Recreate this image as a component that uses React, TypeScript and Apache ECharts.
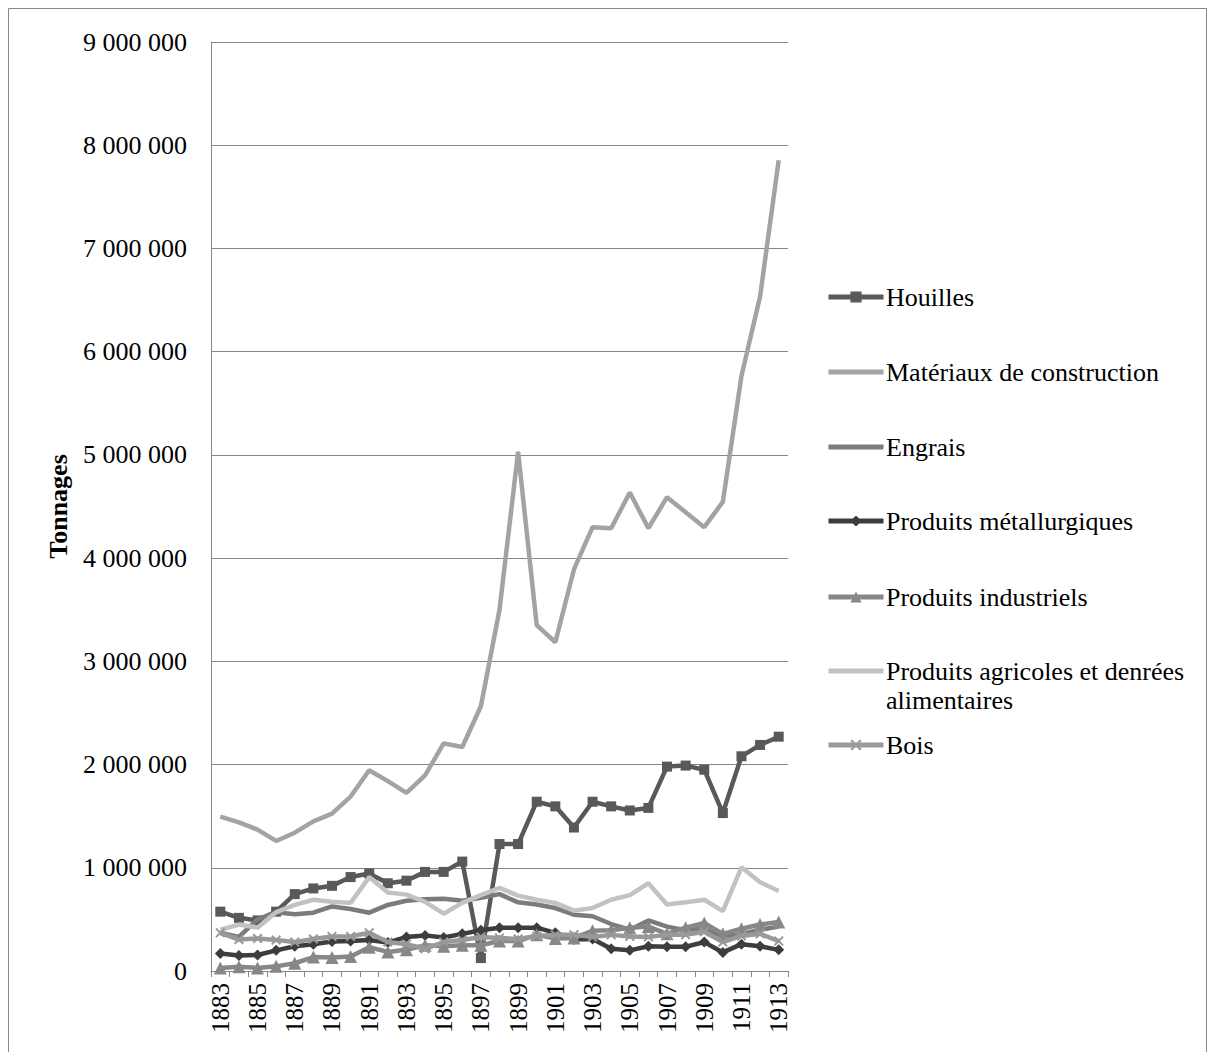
import React, { useEffect, useRef } from "react";
import * as echarts from "echarts";

const years = [
  "1883","1884","1885","1886","1887","1888","1889","1890","1891","1892","1893",
  "1894","1895","1896","1897","1898","1899","1900","1901","1902","1903","1904",
  "1905","1906","1907","1908","1909","1910","1911","1912","1913",
];

const houilles = [575000, 515000, 490000, 575000, 745000, 800000, 825000, 910000, 945000, 850000, 875000, 960000, 960000, 1060000, 125000, 1230000, 1230000, 1640000, 1595000, 1390000, 1640000, 1595000, 1555000, 1580000, 1980000, 1990000, 1950000, 1530000, 2080000, 2190000, 2270000];
const materiaux = [1495000, 1440000, 1370000, 1260000, 1340000, 1450000, 1525000, 1690000, 1945000, 1840000, 1725000, 1895000, 2205000, 2170000, 2565000, 3500000, 5030000, 3350000, 3185000, 3890000, 4300000, 4290000, 4635000, 4290000, 4590000, 4445000, 4300000, 4545000, 5765000, 6535000, 7855000];
const engrais = [370000, 330000, 500000, 570000, 550000, 565000, 625000, 600000, 565000, 640000, 680000, 695000, 700000, 680000, 710000, 745000, 665000, 645000, 610000, 545000, 530000, 455000, 400000, 490000, 430000, 395000, 420000, 330000, 360000, 400000, 430000];
const metallurgiques = [170000, 150000, 155000, 200000, 240000, 260000, 285000, 290000, 300000, 275000, 330000, 345000, 325000, 360000, 395000, 420000, 420000, 420000, 370000, 305000, 310000, 215000, 200000, 240000, 235000, 235000, 280000, 180000, 260000, 240000, 205000];
const industriels = [30000, 40000, 30000, 45000, 75000, 135000, 130000, 140000, 230000, 185000, 205000, 250000, 240000, 250000, 250000, 290000, 290000, 350000, 315000, 320000, 390000, 395000, 420000, 430000, 360000, 420000, 465000, 360000, 410000, 450000, 475000];
const agricoles = [400000, 450000, 420000, 570000, 640000, 690000, 670000, 660000, 910000, 760000, 740000, 670000, 555000, 660000, 735000, 805000, 730000, 690000, 660000, 585000, 610000, 690000, 735000, 850000, 645000, 665000, 690000, 580000, 1005000, 860000, 775000];
const bois = [370000, 305000, 315000, 300000, 280000, 310000, 335000, 335000, 370000, 280000, 260000, 215000, 280000, 300000, 330000, 320000, 310000, 340000, 350000, 350000, 330000, 350000, 335000, 330000, 350000, 350000, 380000, 280000, 340000, 360000, 290000];

const seriesNames = [
  "Houilles",
  "Matériaux de construction",
  "Engrais",
  "Produits métallurgiques",
  "Produits industriels",
  "Produits agricoles et denrées alimentaires",
  "Bois",
];
const legendLines = [
  ["Houilles"],
  ["Matériaux de construction"],
  ["Engrais"],
  ["Produits métallurgiques"],
  ["Produits industriels"],
  ["Produits agricoles et denrées", "alimentaires"],
  ["Bois"],
];

const FONT = "Liberation Serif";
const X_SYMBOL =
  "path://M0,1.4 L1.4,0 L5,3.6 L8.6,0 L10,1.4 L6.4,5 L10,8.6 L8.6,10 L5,6.4 L1.4,10 L0,8.6 L3.6,5 Z";

function fmt(v: number): string {
  return String(Math.round(v)).replace(/\B(?=(\d{3})+(?!\d))/g, " ");
}

export default function App() {
  const ref = useRef<HTMLDivElement>(null);

  useEffect(() => {
    if (!ref.current) return;
    const chart = echarts.init(ref.current, null, { renderer: "svg" });

    const styles = [
      { data: houilles, color: "#595959", symbol: "rect", size: 10 },
      { data: materiaux, color: "#a3a3a3", symbol: "none", size: 0 },
      { data: engrais, color: "#7b7b7b", symbol: "none", size: 0 },
      { data: metallurgiques, color: "#3d3d3d", symbol: "diamond", size: 11 },
      { data: industriels, color: "#878787", symbol: "triangle", size: 13 },
      { data: agricoles, color: "#c2c2c2", symbol: "none", size: 0 },
      { data: bois, color: "#999999", symbol: X_SYMBOL, size: 10 },
    ];

    const series = styles.map((s, i) => ({
      name: seriesNames[i],
      type: "line",
      data: s.data,
      symbol: s.symbol,
      symbolSize: s.size,
      showSymbol: s.symbol !== "none",
      showAllSymbol: true,
      lineStyle: { color: s.color, width: 4.5 },
      itemStyle: { color: s.color, borderWidth: 0, opacity: 1 },
      emphasis: { disabled: true },
      z: 2 + i,
    }));

    const legendCenters = [297, 372, 447, 521, 597, 671, 745];
    const legends = seriesNames.map((n, i) => {
      const noMarker = styles[i].symbol === "none";
      return {
        data: [n],
        left: 826,
        top: legendCenters[i] - 7,
        orient: "vertical",
        itemWidth: 55,
        itemHeight: 14,
        itemGap: 0,
        padding: 0,
        textGap: 0,
        selectedMode: false,
        lineStyle: { width: 5 },
        itemStyle: noMarker ? { opacity: 0 } : {},
        formatter: () => "",
        textStyle: { fontSize: 1 },
      };
    });

    const legendTexts: any[] = [];
    legendLines.forEach((lines, i) => {
      lines.forEach((line, j) => {
        legendTexts.push({
          type: "text",
          x: 886,
          y: legendCenters[i] + j * 29,
          silent: true,
          style: {
            text: line,
            fontFamily: FONT,
            fontSize: 26,
            fill: "#000",
            align: "left",
            verticalAlign: "middle",
          },
        });
      });
    });

    chart.setOption({
      animation: false,
      backgroundColor: "#fff",
      textStyle: { fontFamily: FONT },
      grid: { left: 211, right: 420, top: 42, bottom: 81, containLabel: false },
      legend: legends,
      xAxis: {
        type: "category",
        data: years,
        boundaryGap: true,
        axisLine: { lineStyle: { color: "#868686", width: 1 } },
        axisTick: {
          show: true,
          interval: 0,
          length: 6,
          lineStyle: { color: "#868686" },
        },
        axisLabel: {
          interval: 1,
          rotate: 90,
          margin: 12,
          fontFamily: FONT,
          fontSize: 25,
          color: "#000",
        },
        splitLine: { show: false },
      },
      yAxis: {
        type: "value",
        min: 0,
        max: 9000000,
        interval: 1000000,
        name: "Tonnages",
        nameLocation: "middle",
        nameRotate: 90,
        nameGap: 140,
        nameTextStyle: {
          fontFamily: FONT,
          fontSize: 26,
          fontWeight: "bold",
          color: "#000",
        },
        axisLine: { show: true, lineStyle: { color: "#868686", width: 1 } },
        axisTick: { show: false },
        axisLabel: {
          margin: 24,
          fontFamily: FONT,
          fontSize: 26,
          color: "#000",
          formatter: (v: number) => fmt(v),
        },
        splitLine: { show: true, lineStyle: { color: "#868686", width: 1 } },
      },
      graphic: [
        {
          type: "rect",
          shape: { x: 8.5, y: 8.5, width: 1198, height: 1100 },
          style: { fill: "none", stroke: "#878787", lineWidth: 1 },
          silent: true,
          z: -1,
        },
        ...legendTexts,
      ],
      series,
    });

    return () => chart.dispose();
  }, []);

  return (
    <div
      ref={ref}
      style={{ position: "fixed", left: 0, top: 0, width: 1208, height: 1052 }}
    />
  );
}
